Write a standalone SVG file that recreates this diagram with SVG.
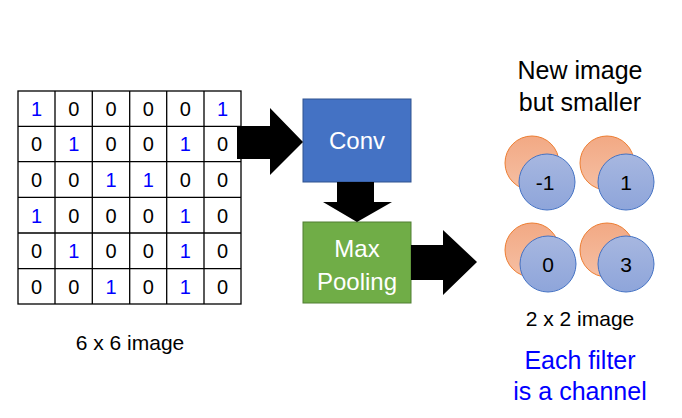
<svg xmlns="http://www.w3.org/2000/svg" width="682" height="418" viewBox="0 0 682 418">
<defs>
<style>
.t{font-family:"Liberation Sans",Arial,sans-serif;}
.g{font-size:20px;text-anchor:middle;fill:#000;}
.b{fill:#0000FF;}
.gl{stroke:#000;stroke-width:1.3;fill:none;}
.box{font-size:24px;fill:#fff;text-anchor:middle;}
.lbl{font-size:21px;text-anchor:middle;fill:#000;}
.big{font-size:25px;text-anchor:middle;fill:#000;}
.org{fill:url(#og);stroke:#ED7D31;stroke-width:1;}
.blu{fill:url(#bg);stroke:#4472C4;stroke-width:1;}
.arr{fill:#000;}
</style>
<linearGradient id="og" x1="0" y1="0" x2="0" y2="1">
<stop offset="0" stop-color="#F2A984"/>
<stop offset="1" stop-color="#F6BFA3"/>
</linearGradient>
<linearGradient id="bg" x1="0" y1="0" x2="0" y2="1">
<stop offset="0" stop-color="#A7B7E0"/>
<stop offset="1" stop-color="#8EA5DA"/>
</linearGradient>
</defs>
<g id="grid" class="t">
<rect class="gl" x="18" y="91" width="223" height="213"/>
<path class="gl" d="M55 91V304M92.3 91V304M129.7 91V304M166.7 91V304M204 91V304M18 126.3H241M18 161.7H241M18 197.3H241M18 233H241M18 268.7H241"/>
<g class="g">
<text x="36.5" y="116" class="b">1</text><text x="73.7" y="116">0</text><text x="111" y="116">0</text><text x="148.2" y="116">0</text><text x="185.3" y="116">0</text><text x="222.5" y="116" class="b">1</text>
<text x="36.5" y="151.3">0</text><text x="73.7" y="151.3" class="b">1</text><text x="111" y="151.3">0</text><text x="148.2" y="151.3">0</text><text x="185.3" y="151.3" class="b">1</text><text x="222.5" y="151.3">0</text>
<text x="36.5" y="186.8">0</text><text x="73.7" y="186.8">0</text><text x="111" y="186.8" class="b">1</text><text x="148.2" y="186.8" class="b">1</text><text x="185.3" y="186.8">0</text><text x="222.5" y="186.8">0</text>
<text x="36.5" y="222.5" class="b">1</text><text x="73.7" y="222.5">0</text><text x="111" y="222.5">0</text><text x="148.2" y="222.5">0</text><text x="185.3" y="222.5" class="b">1</text><text x="222.5" y="222.5">0</text>
<text x="36.5" y="258.1">0</text><text x="73.7" y="258.1" class="b">1</text><text x="111" y="258.1">0</text><text x="148.2" y="258.1">0</text><text x="185.3" y="258.1" class="b">1</text><text x="222.5" y="258.1">0</text>
<text x="36.5" y="293.6">0</text><text x="73.7" y="293.6">0</text><text x="111" y="293.6" class="b">1</text><text x="148.2" y="293.6">0</text><text x="185.3" y="293.6" class="b">1</text><text x="222.5" y="293.6">0</text>
</g>
<text class="lbl" x="130" y="350">6 x 6 image</text>
</g>
<g id="conv" class="t">
<rect x="303" y="99" width="108" height="83" fill="#4472C4" stroke="#2F528F" stroke-width="1"/>
<text class="box" x="357" y="149">Conv</text>
</g>
<g id="maxpool" class="t">
<rect x="303" y="222" width="108" height="81" fill="#70AD47" stroke="#507E32" stroke-width="1"/>
<text class="box" x="357" y="257">Max</text>
<text class="box" x="357" y="290">Pooling</text>
</g>
<g id="connectors">
<polygon class="arr" points="237,126 270,126 270,108 303,142 270,175 270,159 237,159"/>
<polygon class="arr" points="337,182 374,182 374,202 392,202 357,222 323,202 337,202"/>
<polygon class="arr" points="411,245 443,245 443,230 477,262 443,295 443,280 411,280"/>
</g>
<g id="output" class="t">
<text class="big" x="580" y="79">New image</text>
<text class="big" x="580" y="111">but smaller</text>
<g id="c1"><circle class="org" cx="532" cy="163" r="27"/><circle class="blu" cx="547" cy="182" r="28"/><text class="lbl" x="545" y="190">-1</text></g>
<g id="c2"><circle class="org" cx="607" cy="163" r="27"/><circle class="blu" cx="626" cy="182" r="28"/><text class="lbl" x="626" y="190">1</text></g>
<g id="c3"><circle class="org" cx="532" cy="250" r="27"/><circle class="blu" cx="548" cy="264" r="28"/><text class="lbl" x="548" y="272">0</text></g>
<g id="c4"><circle class="org" cx="607" cy="250" r="27"/><circle class="blu" cx="626" cy="264" r="28"/><text class="lbl" x="626" y="272">3</text></g>
<text class="lbl" x="580" y="326">2 x 2 image</text>
<text class="big" x="580" y="369" style="fill:#0000FF">Each filter</text>
<text class="big" x="580" y="400" style="fill:#0000FF">is a channel</text>
</g>
</svg>
